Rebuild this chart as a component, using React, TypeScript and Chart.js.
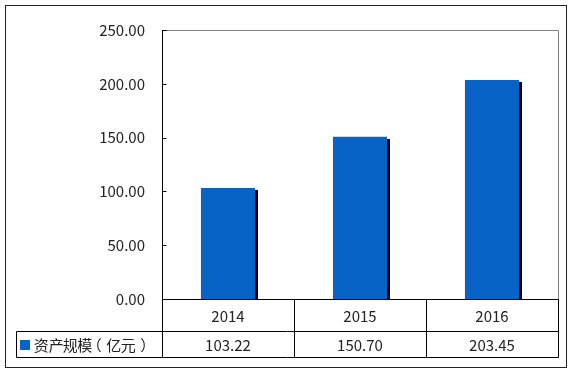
import React, { useEffect, useRef } from "react";
import { Chart, registerables } from "chart.js";

Chart.register(...registerables);

const categories = ["2014", "2015", "2016"];
const values = [103.22, 150.7, 203.45];
const valueLabels = ["103.22", "150.70", "203.45"];
const seriesName = "资产规模（亿元）";
const yMin = 0;
const yMax = 250;
const yStep = 50;

const BAR_COLOR = "#0863C6";
const FONT = '"Noto Sans CJK SC", "Noto Sans", sans-serif';

const tablePlugin = {
  id: "tablePlugin",
  beforeDatasetsDraw(chart: any) {
    const ctx = chart.ctx;
    const meta = chart.getDatasetMeta(0);
    ctx.save();
    ctx.fillStyle = "#000";
    meta.data.forEach((bar: any) => {
      const w = bar.width;
      const left = bar.x + w / 2;
      ctx.fillRect(Math.round(left), Math.round(bar.y + 2), 3, Math.round(bar.base - bar.y - 2));
    });
    ctx.restore();
  },
  afterDraw(chart: any) {
    const ctx = chart.ctx;
    const { left, right, top, bottom } = chart.chartArea;
    const xs = chart.scales.x;
    const ys = chart.scales.y;
    const n = categories.length;
    const cw = (right - left) / n;
    const row1 = bottom + 32;
    const row2 = row1 + 26;
    const tableLeft = 16;
    ctx.save();
    // outer border
    ctx.strokeStyle = "#222";
    ctx.lineWidth = 1;
    ctx.strokeRect(5.5, 5.5, 561, 362);
    // plot top/right gray border
    ctx.strokeStyle = "#808080";
    ctx.beginPath();
    ctx.moveTo(Math.round(left) + 0.5, Math.round(top) + 0.5);
    ctx.lineTo(Math.round(right) + 0.5, Math.round(top) + 0.5);
    ctx.lineTo(Math.round(right) + 0.5, Math.round(bottom) + 0.5);
    ctx.stroke();
    // y axis line + inner ticks
    ctx.strokeStyle = "#000";
    ctx.beginPath();
    const lx = Math.round(left) + 0.5;
    ctx.moveTo(lx, Math.round(top));
    ctx.lineTo(lx, row2 + 0.5);
    for (let v = yMin; v <= yMax; v += yStep) {
      const py = Math.round(ys.getPixelForValue(v)) + 0.5;
      ctx.moveTo(lx, py);
      ctx.lineTo(lx + 4, py);
    }
    ctx.stroke();
    // table lines
    ctx.beginPath();
    const b = Math.round(bottom) + 0.5;
    ctx.moveTo(lx, b);
    ctx.lineTo(Math.round(right) + 0.5, b);
    ctx.moveTo(tableLeft + 0.5, row1 + 0.5);
    ctx.lineTo(Math.round(right) + 0.5, row1 + 0.5);
    ctx.moveTo(tableLeft + 0.5, row2 + 0.5);
    ctx.lineTo(Math.round(right) + 0.5, row2 + 0.5);
    ctx.moveTo(tableLeft + 0.5, row1 + 0.5);
    ctx.lineTo(tableLeft + 0.5, row2 + 0.5);
    for (let i = 1; i <= n; i++) {
      const vx = Math.round(left + cw * i) + 0.5;
      ctx.moveTo(vx, b);
      ctx.lineTo(vx, row2 + 0.5);
    }
    ctx.stroke();
    // texts
    ctx.fillStyle = "#222";
    ctx.font = `15px ${FONT}`;
    ctx.textAlign = "center";
    ctx.textBaseline = "middle";
    categories.forEach((c, i) => {
      const cx = xs.getPixelForValue(i);
      ctx.fillText(c, cx, (bottom + row1) / 2 + 1);
      ctx.fillText(valueLabels[i], cx, (row1 + row2) / 2 + 1);
    });
    // legend key
    ctx.fillStyle = BAR_COLOR;
    ctx.fillRect(20, row1 + 9, 10, 10);
    ctx.fillStyle = "#222";
    ctx.textAlign = "left";
    let cell = 34;
    const cellW = 14.5;
    for (const ch of seriesName) {
      const m = ctx.measureText(ch);
      const inkL = -m.actualBoundingBoxLeft;
      const inkR = m.actualBoundingBoxRight;
      const inkCenter = (inkL + inkR) / 2;
      ctx.fillText(ch, cell + cellW / 2 - inkCenter, (row1 + row2) / 2 + 1);
      cell += cellW;
    }
    ctx.restore();
  },
};

function BarChart() {
  const ref = useRef<HTMLCanvasElement>(null);
  useEffect(() => {
    if (!ref.current) return;
    const chart = new Chart(ref.current, {
      type: "bar",
      data: {
        labels: categories,
        datasets: [
          {
            label: seriesName,
            data: values,
            backgroundColor: BAR_COLOR,
            borderWidth: 0,
            barPercentage: 0.41,
            categoryPercentage: 1,
          },
        ],
      },
      options: {
        responsive: false,
        animation: false,
        devicePixelRatio: 1,
        layout: { padding: { left: 0, top: 30, right: 15, bottom: 74 } },
        plugins: { legend: { display: false }, tooltip: { enabled: false } },
        scales: {
          x: { display: false },
          y: {
            min: yMin,
            max: yMax,
            grid: { display: false, drawTicks: false },
            border: { display: false },
            afterFit: (scale: any) => {
              scale.width = 162;
            },
            ticks: {
              stepSize: yStep,
              padding: 17,
              color: "#222",
              font: { family: FONT, size: 15 },
              callback: (v: any) => Number(v).toFixed(2),
            },
          },
        },
      },
      plugins: [tablePlugin],
    });
    return () => chart.destroy();
  }, []);
  return <canvas ref={ref} width={573} height={373} style={{ display: "block" }} />;
}

export default function App() {
  return (
    <div style={{ position: "absolute", left: 0, top: 0, width: 573, height: 373, background: "#fff" }}>
      <BarChart />
    </div>
  );
}
